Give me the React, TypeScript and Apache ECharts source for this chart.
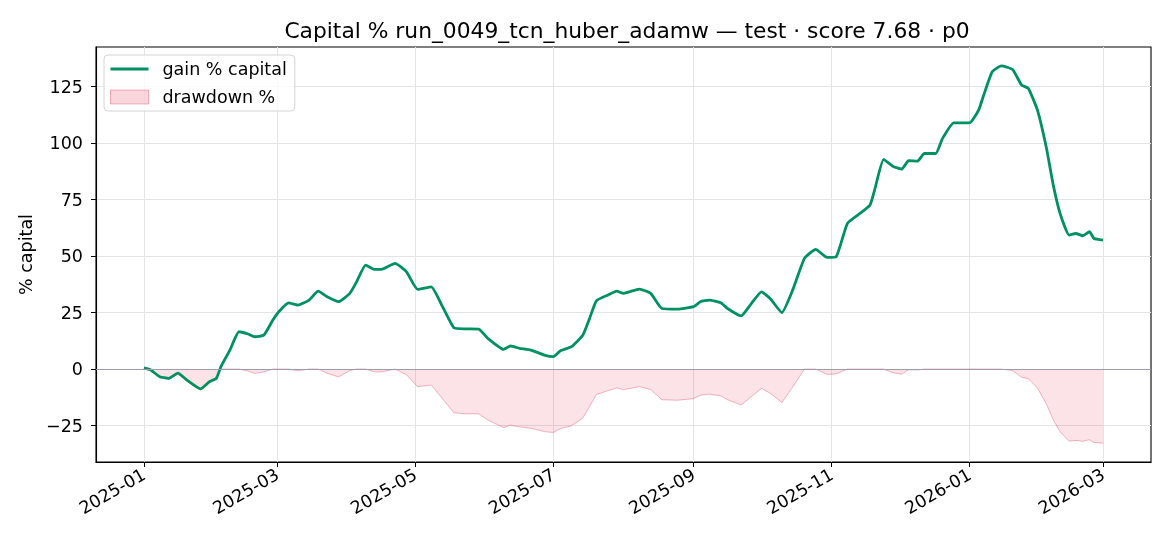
import { useEffect, useRef } from 'react';
import * as echarts from 'echarts';

const dates = [
  '2025-01-01', '2025-01-04', '2025-01-08', '2025-01-12', '2025-01-16', '2025-01-20', '2025-01-26', '2025-01-30',
  '2025-02-02', '2025-02-04', '2025-02-08', '2025-02-12', '2025-02-16', '2025-02-19', '2025-02-23', '2025-02-27',
  '2025-03-02', '2025-03-06', '2025-03-10', '2025-03-15', '2025-03-19', '2025-03-23', '2025-03-28',
  '2025-04-02', '2025-04-05', '2025-04-09', '2025-04-13', '2025-04-16', '2025-04-22', '2025-04-27',
  '2025-05-02', '2025-05-08', '2025-05-13', '2025-05-18', '2025-05-23', '2025-05-29',
  '2025-06-02', '2025-06-09', '2025-06-12', '2025-06-16', '2025-06-21', '2025-06-27',
  '2025-07-01', '2025-07-04', '2025-07-09', '2025-07-14', '2025-07-17', '2025-07-20', '2025-07-25', '2025-07-29',
  '2025-08-01', '2025-08-08', '2025-08-13', '2025-08-18', '2025-08-25',
  '2025-09-01', '2025-09-04', '2025-09-08', '2025-09-13', '2025-09-16', '2025-09-22', '2025-09-26',
  '2025-10-01', '2025-10-05', '2025-10-10', '2025-10-15', '2025-10-20', '2025-10-25', '2025-10-30',
  '2025-11-03', '2025-11-08', '2025-11-14', '2025-11-18', '2025-11-20', '2025-11-24', '2025-11-28',
  '2025-12-02', '2025-12-05', '2025-12-09', '2025-12-12', '2025-12-17', '2025-12-20', '2025-12-25',
  '2026-01-01', '2026-01-05', '2026-01-07', '2026-01-11', '2026-01-15', '2026-01-20', '2026-01-24', '2026-01-27', '2026-01-31',
  '2026-02-04', '2026-02-07', '2026-02-10', '2026-02-14', '2026-02-17', '2026-02-20', '2026-02-23', '2026-02-25',
  '2026-03-01',
];

const gainPct = [
  0.5, -0.4, -3.4, -4.1, -1.8, -4.9, -8.8, -5.6,
  -4.1, 1, 8.4, 16.5, 15.5, 14.3, 15, 21.7,
  25.8, 29.3, 28.3, 30.5, 34.5, 32, 29.8,
  33.5, 38.6, 46, 44.1, 44.1, 46.8, 43.1,
  35.3, 36.4, 27.6, 18.3, 17.8, 17.7,
  13.6, 8.7, 10.2, 9.2, 8.4, 6.2,
  5.5, 8, 9.9, 15, 22.4, 30.2, 32.7, 34.5,
  33.5, 35.4, 33.5, 26.8, 26.5,
  27.6, 29.8, 30.5, 29.3, 26.8, 23.5, 28.3,
  34.2, 31, 25, 35.5, 49, 53, 49.4,
  49.7, 64.5, 69.2, 72.6, 79.2, 92.8, 89.8,
  88.5, 92.2, 92, 95.4, 95.4, 102, 109,
  109, 114.6, 120.5, 131.6, 134.2, 132.6, 125.7, 124.2, 114.6,
  97.7, 81.4, 68.9, 59.3, 60, 59, 60.8, 57.8,
  57.1,
];

const drawdownPct = [
  0, -0.9, -3.9, -4.6, -2.3, -5.4, -9.3, -6.1,
  -4.6, 0, 0, 0, -0.9, -1.9, -1.3, 0,
  0, 0, -0.8, 0, 0, -1.9, -3.5,
  -0.7, 0, 0, -1.3, -1.3, 0, -2.5,
  -7.8, -7.1, -13.1, -19.4, -19.8, -19.8,
  -22.6, -25.9, -24.9, -25.6, -26.2, -27.7,
  -28.1, -26.4, -25.1, -21.7, -16.6, -11.3, -9.6, -8.4,
  -9.1, -7.8, -9.1, -13.6, -13.8,
  -13.1, -11.6, -11.1, -11.9, -13.6, -15.9, -12.6,
  -8.6, -10.8, -14.8, -7.7, 0, 0, -2.4,
  -2.2, 0, 0, 0, 0, 0, -1.6,
  -2.3, -0.3, -0.4, 0, 0, 0, 0,
  0, 0, 0, 0, 0, -0.7, -3.6, -4.3, -8.4,
  -15.6, -22.5, -27.8, -31.9, -31.6, -32, -31.3, -32.5,
  -32.8,
];

const xTicks = ['2025-01-01', '2025-03-01', '2025-05-01', '2025-07-01', '2025-09-01', '2025-11-01', '2026-01-01', '2026-03-01'];
const yTicks = [-25, 0, 25, 50, 75, 100, 125];

const FONT = 'DejaVu Sans';
const GREEN = '#009160';
const FS = 17.5;

function ts(s: string) {
  const [y, m, d] = s.split('-').map(Number);
  return new Date(y, m - 1, d).getTime();
}

// thin line centred in a 38x14 box (the M points keep the box size)
const LINE_ICON = 'path://M0,0 L0,0.01 M0,5.6 L38,5.6 L38,8.4 L0,8.4 Z M38,14 L38,13.99';

export default function App() {
  const ref = useRef<HTMLDivElement>(null);

  useEffect(() => {
    if (!ref.current) return;
    const chart = echarts.init(ref.current, undefined, { renderer: 'svg' });

    const t0 = ts(dates[0]);
    const t1 = ts(dates[dates.length - 1]);
    const pad = (t1 - t0) * 0.05;
    const yLo = Math.min(...drawdownPct);
    const yHi = Math.max(...gainPct);
    const yPad = (yHi - yLo) * 0.05;

    const tickTs = xTicks.map(ts);

    chart.setOption({
      animation: false,
      textStyle: { fontFamily: FONT },
      title: {
        text: 'Capital % run_0049_tcn_huber_adamw — test · score 7.68 · p0',
        left: 622, top: 14, textAlign: 'center',
        textStyle: { fontFamily: FONT, fontSize: 21.8, fontWeight: 'normal', color: '#000' },
      },
      legend: {
        left: 104, top: 55, orient: 'vertical',
        padding: [5, 8, 5, 6], itemGap: 10, itemWidth: 38, itemHeight: 14,
        borderColor: '#d4d4d4', borderWidth: 1, borderRadius: 4,
        backgroundColor: 'rgba(255,255,255,0.8)',
        textStyle: { fontFamily: FONT, fontSize: FS, color: '#000', padding: [0, 0, 0, 9] },
        data: [
          { name: 'gain % capital', icon: LINE_ICON, itemStyle: { color: GREEN, borderWidth: 0 } },
          { name: 'drawdown %', icon: 'rect', itemStyle: { color: 'rgba(220,20,60,0.18)', borderColor: 'rgba(220,20,60,0.3)', borderWidth: 1 } },
        ],
      },
      grid: { left: 96, right: 19, top: 47, bottom: 84, show: true, borderColor: '#000', borderWidth: 1.1, backgroundColor: 'transparent' },
      xAxis: {
        type: 'value',
        min: t0 - pad, max: t1 + pad,
        axisLine: { show: true, onZero: false, lineStyle: { color: '#000', width: 1.1 } },
        axisTick: { show: true, length: 5, customValues: tickTs, lineStyle: { color: '#000' } },
        axisLabel: {
          customValues: tickTs, rotate: 30, margin: 11, fontFamily: FONT, fontSize: FS, color: '#000',
          formatter: (v: number) => {
            const d = new Date(v);
            return `${d.getFullYear()}-${String(d.getMonth() + 1).padStart(2, '0')}`;
          },
        },
        splitLine: { show: true, lineStyle: { color: '#e4e4e4', width: 1 } },
      },
      yAxis: {
        type: 'value',
        min: yLo - yPad, max: yHi + yPad,
        name: '% capital', nameLocation: 'middle', nameGap: 55, nameRotate: 90,
        nameTextStyle: { fontFamily: FONT, fontSize: FS, color: '#000' },
        axisLine: { show: true, onZero: false, lineStyle: { color: '#000', width: 1.1 } },
        axisTick: { show: true, length: 5, customValues: yTicks, lineStyle: { color: '#000' } },
        axisLabel: {
          customValues: yTicks, margin: 13, fontFamily: FONT, fontSize: FS, color: '#000',
          formatter: (v: number) => (v < 0 ? '\u2212' + Math.abs(v) : String(v)),
        },
        splitLine: { show: true, lineStyle: { color: '#e4e4e4', width: 1 } },
      },
      series: [
        {
          name: 'drawdown %',
          type: 'line',
          data: dates.map((d, i) => [ts(d), drawdownPct[i]]),
          symbol: 'none',
          lineStyle: { color: 'rgba(220,20,60,0.3)', width: 1 },
          itemStyle: { color: 'rgba(220,20,60,0.18)' },
          areaStyle: { color: 'rgba(220,20,60,0.17)', origin: 0 },
          z: 2,
        },
        {
          name: 'gain % capital',
          type: 'line',
          data: dates.map((d, i) => [ts(d), gainPct[i]]),
          symbol: 'none',
          smooth: 0.15,
          lineStyle: { color: GREEN, width: 2.8 },
          itemStyle: { color: GREEN },
          markLine: {
            silent: true, symbol: 'none', label: { show: false },
            lineStyle: { color: '#9a9cab', width: 1, type: 'solid' },
            data: [{ yAxis: 0 }],
          },
          z: 3,
        },
      ],
    });

    return () => chart.dispose();
  }, []);

  return <div ref={ref} style={{ position: 'fixed', left: 0, top: 0, width: 1170, height: 546 }} />;
}
